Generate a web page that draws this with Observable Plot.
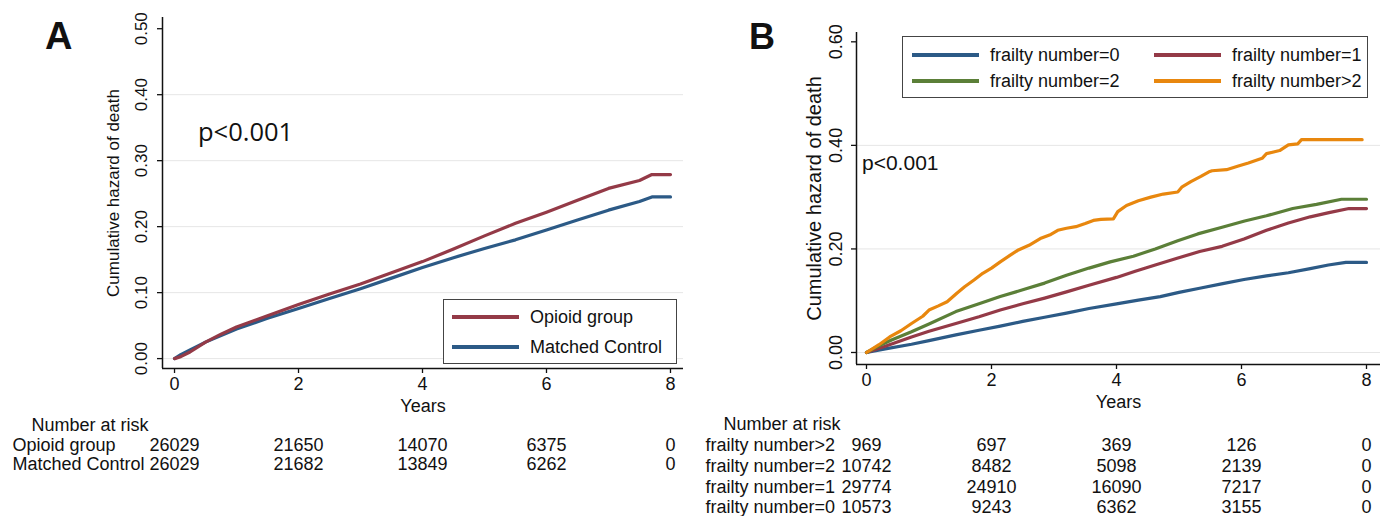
<!DOCTYPE html>
<html><head><meta charset="utf-8">
<script src="https://cdn.jsdelivr.net/npm/d3@7"></script>
<script src="https://cdn.jsdelivr.net/npm/@observablehq/plot@0.6"></script>
<style>
body{margin:0;background:#fff;}
#wrap{position:relative;width:1384px;height:516px;overflow:hidden;font-family:"Liberation Sans",Arial,sans-serif;color:#111;}
.panel{position:absolute;top:0;}
.ov{position:absolute;white-space:nowrap;line-height:1;}
.legend{position:absolute;border:1.3px solid #444;background:#fff;box-sizing:border-box;}
.item{position:absolute;display:flex;align-items:center;font-size:18px;height:22px;white-space:nowrap;}
.swatch{display:inline-block;width:67px;height:4px;margin-right:11px;}
</style></head><body><div id="wrap"></div>
<script>
// ---------- Panel A data ----------
const yearsA   = [0,0.1,0.25,0.5,0.75,1,1.5,2,2.5,3,3.5,4,4.5,5,5.5,6,6.5,7,7.5,7.7,8];
const opioidA  = [0,0.003,0.010,0.025,0.037,0.048,0.065,0.082,0.098,0.113,0.130,0.147,0.166,0.186,0.205,0.222,0.240,0.258,0.270,0.279,0.279];
const controlA = [0,0.006,0.013,0.025,0.035,0.045,0.061,0.076,0.091,0.106,0.122,0.138,0.153,0.167,0.180,0.195,0.210,0.225,0.238,0.245,0.245];
const seriesNamesA = ["Opioid group","Matched Control"];
const riskYears = [0,2,4,6,8];
const riskOpioidA  = [26029,21650,14070,6375,0];
const riskControlA = [26029,21682,13849,6262,0];
const yTicksA = [0,0.1,0.2,0.3,0.4,0.5];
const gridA = [0,0.1,0.2,0.3,0.4];

// ---------- Panel B data ----------
const fr0Years = [0,0.3,0.72,1,1.43,1.8,2.14,2.5,2.85,3.2,3.56,4,4.35,4.7,5,5.33,5.7,6.04,6.4,6.75,7.1,7.39,7.67,8];
const fr0Vals  = [0,0.007,0.016,0.023,0.034,0.043,0.051,0.060,0.068,0.076,0.085,0.094,0.101,0.108,0.116,0.124,0.133,0.141,0.148,0.154,0.162,0.169,0.174,0.174];
const fr1Years = [0,0.3,0.72,1,1.43,1.8,2.14,2.5,2.85,3.2,3.56,4,4.3,4.62,4.97,5.33,5.69,6.04,6.4,6.75,7.1,7.4,7.72,8];
const fr1Vals  = [0,0.012,0.030,0.041,0.056,0.069,0.082,0.094,0.105,0.117,0.130,0.145,0.157,0.169,0.182,0.195,0.205,0.219,0.236,0.250,0.262,0.270,0.278,0.278];
const fr2Years = [0,0.2,0.4,0.72,1,1.43,1.8,2.14,2.5,2.85,3.2,3.56,3.9,4.27,4.62,4.98,5.3,5.69,6.05,6.4,6.82,7.2,7.6,8];
const fr2Vals  = [0,0.013,0.024,0.040,0.055,0.079,0.094,0.108,0.121,0.134,0.149,0.163,0.175,0.186,0.200,0.216,0.229,0.242,0.254,0.264,0.278,0.286,0.296,0.296];
const fr3Years = [0,0.2,0.37,0.55,0.72,0.9,1,1.15,1.29,1.45,1.57,1.72,1.86,2,2.14,2.3,2.43,2.6,2.78,2.95,3.06,3.2,3.35,3.5,3.63,3.75,3.95,4.02,4.16,4.35,4.55,4.75,4.98,5.05,5.19,5.35,5.48,5.53,5.76,5.95,6.11,6.33,6.4,6.61,6.75,6.9,6.96,7.93];
const fr3Vals  = [0,0.015,0.030,0.042,0.056,0.070,0.082,0.090,0.098,0.115,0.127,0.140,0.153,0.163,0.175,0.188,0.198,0.207,0.220,0.228,0.236,0.240,0.243,0.249,0.255,0.257,0.258,0.272,0.284,0.293,0.300,0.306,0.310,0.320,0.330,0.340,0.349,0.351,0.353,0.360,0.366,0.375,0.384,0.390,0.401,0.403,0.411,0.411];
const seriesNamesB = ["frailty number=0","frailty number=1","frailty number=2","frailty number>2"];
const riskLabelsB = ["frailty number>2","frailty number=2","frailty number=1","frailty number=0"];
const riskB = [
  [969,697,369,126,0],
  [10742,8482,5098,2139,0],
  [29774,24910,16090,7217,0],
  [10573,9243,6362,3155,0]
];
const yTicksB = [0,0.2,0.4,0.6];
const gridB = [0,0.2,0.4];

const C = {navy:"#2c5a86", maroon:"#943a47", green:"#5b7f38", orange:"#e8870e"};
const toPts = (ts, vs) => ts.map((t,i)=>({t, v: vs[i]}));

function panel(cfg){
  const marks = [
    Plot.ruleY(cfg.grid, {stroke:"#e6e6e6", strokeWidth:1}),
    Plot.ruleX([cfg.xDomain[0]], {stroke:"#111", strokeWidth:1.5}),
    Plot.ruleY([cfg.yDomain[0]], {stroke:"#111", strokeWidth:1.5}),
    Plot.axisY({ticks: cfg.yTicks, tickFormat: d3.format(".2f"), tickRotate: -90, tickSize: 5, tickPadding: cfg.yPad, fontSize: cfg.yTickFont, label: null, stroke:"#111", strokeWidth:1.3}),
    Plot.axisX({ticks: riskYears, tickFormat: d3.format("d"), tickSize: 5, tickPadding: 4, fontSize: 18, label: null, stroke:"#111", strokeWidth:1.3}),
    ...cfg.series.map(s => Plot.line(s.data, {x:"t", y:"v", stroke: s.color, strokeWidth: 3.2})),
    Plot.text(["Years"], {frameAnchor:"bottom", lineAnchor:"middle", textAnchor:"middle", dy: cfg.yearsDy, fontSize: 18}),
    Plot.text(["Cumulative hazard of death"], {frameAnchor:"left", lineAnchor:"middle", textAnchor:"middle", rotate:-90, dx: cfg.titleDx, fontSize: cfg.titleFont}),
    Plot.text(["Number at risk"], {frameAnchor:"bottom-left", lineAnchor:"middle", textAnchor:"start", dx: cfg.narDx, dy: cfg.narDy, fontSize: 18}),
  ];
  cfg.risk.forEach((row, i) => {
    marks.push(Plot.text([row.label], {frameAnchor:"bottom-left", lineAnchor:"middle", textAnchor:"start", dx: cfg.labDx, dy: cfg.rowDy[i], fontSize: 18}));
    marks.push(Plot.text(riskYears.map((t,j)=>({t, n: row.values[j]})), {x:"t", text: d => String(d.n), frameAnchor:"bottom", lineAnchor:"middle", textAnchor:"middle", dy: cfg.rowDy[i], fontSize: 18}));
  });
  return Plot.plot({
    width: cfg.width, height: 516,
    marginLeft: cfg.ml, marginRight: cfg.mr, marginTop: cfg.mt, marginBottom: cfg.mb,
    x: {domain: cfg.xDomain},
    y: {domain: cfg.yDomain},
    style: {fontFamily:"Liberation Sans, Arial, sans-serif", color:"#111", background:"transparent", overflow:"visible"},
    marks
  });
}

const wrap = document.getElementById("wrap");

const plotA = panel({
  width: 690, ml: 162, mr: 7, mt: 17, mb: 148,
  xDomain: [-0.194, 8.21], yDomain: [-0.015, 0.517],
  yTicks: yTicksA, grid: gridA, yPad: 11, yTickFont: 17,
  series: [
    {data: toPts(yearsA, controlA), color: C.navy},
    {data: toPts(yearsA, opioidA), color: C.maroon}
  ],
  yearsDy: 38, titleDx: -49, titleFont: 17,
  narDx: -131, narDy: 57, labDx: -150, rowDy: [77, 96],
  risk: [{label: seriesNamesA[0], values: riskOpioidA}, {label: seriesNamesA[1], values: riskControlA}]
});
plotA.classList.add("panel"); plotA.style.left = "0px";
wrap.appendChild(plotA);

const plotB = panel({
  width: 694, ml: 166, mr: 4, mt: 32, mb: 152,
  xDomain: [-0.16, 8.224], yDomain: [-0.0232, 0.618],
  yTicks: yTicksB, grid: gridB, yPad: 10, yTickFont: 18,
  series: [
    {data: toPts(fr0Years, fr0Vals), color: C.navy},
    {data: toPts(fr1Years, fr1Vals), color: C.maroon},
    {data: toPts(fr2Years, fr2Vals), color: C.green},
    {data: toPts(fr3Years, fr3Vals), color: C.orange}
  ],
  yearsDy: 38, titleDx: -42, titleFont: 20,
  narDx: -133, narDy: 60, labDx: -151, rowDy: [81, 102, 123, 143],
  risk: riskLabelsB.map((l,i)=>({label: l, values: riskB[i]}))
});
plotB.classList.add("panel"); plotB.style.left = "690px";
wrap.appendChild(plotB);

// ---------- overlays ----------
function ov(text, left, top, css){
  const d = document.createElement("div");
  d.className = "ov"; d.textContent = text;
  d.style.left = left + "px"; d.style.top = top + "px";
  Object.assign(d.style, css || {});
  wrap.appendChild(d);
}
ov("A", 45, 17, {fontSize:"38px", fontWeight:"bold", fontFamily:"Liberation Sans, Arial, sans-serif"});
ov("B", 749, 19, {fontSize:"36px", fontWeight:"bold", fontFamily:"Liberation Sans, Arial, sans-serif"});
ov("p<0.001", 198, 119, {fontSize:"25.5px", fontFamily:"Open Sans, sans-serif"});
ov("p<0.001", 862, 152, {fontSize:"21px"});

function legend(left, top, w, h, items){
  const L = document.createElement("div");
  L.className = "legend";
  Object.assign(L.style, {left:left+"px", top:top+"px", width:w+"px", height:h+"px"});
  items.forEach(it => {
    const r = document.createElement("div");
    r.className = "item";
    r.style.left = it.x + "px"; r.style.top = (it.cy - 11) + "px";
    const sw = document.createElement("span"); sw.className = "swatch"; sw.style.background = it.color;
    const tx = document.createElement("span"); tx.textContent = it.name;
    r.appendChild(sw); r.appendChild(tx);
    L.appendChild(r);
  });
  wrap.appendChild(L);
}
legend(443, 299, 234, 65, [
  {name: seriesNamesA[0], color: C.maroon, x: 8, cy: 17},
  {name: seriesNamesA[1], color: C.navy, x: 8, cy: 47}
]);
legend(902, 36, 466, 62, [
  {name: seriesNamesB[0], color: C.navy, x: 9, cy: 18},
  {name: seriesNamesB[1], color: C.maroon, x: 251, cy: 18},
  {name: seriesNamesB[2], color: C.green, x: 9, cy: 44},
  {name: seriesNamesB[3], color: C.orange, x: 251, cy: 44}
]);
</script></body></html>
